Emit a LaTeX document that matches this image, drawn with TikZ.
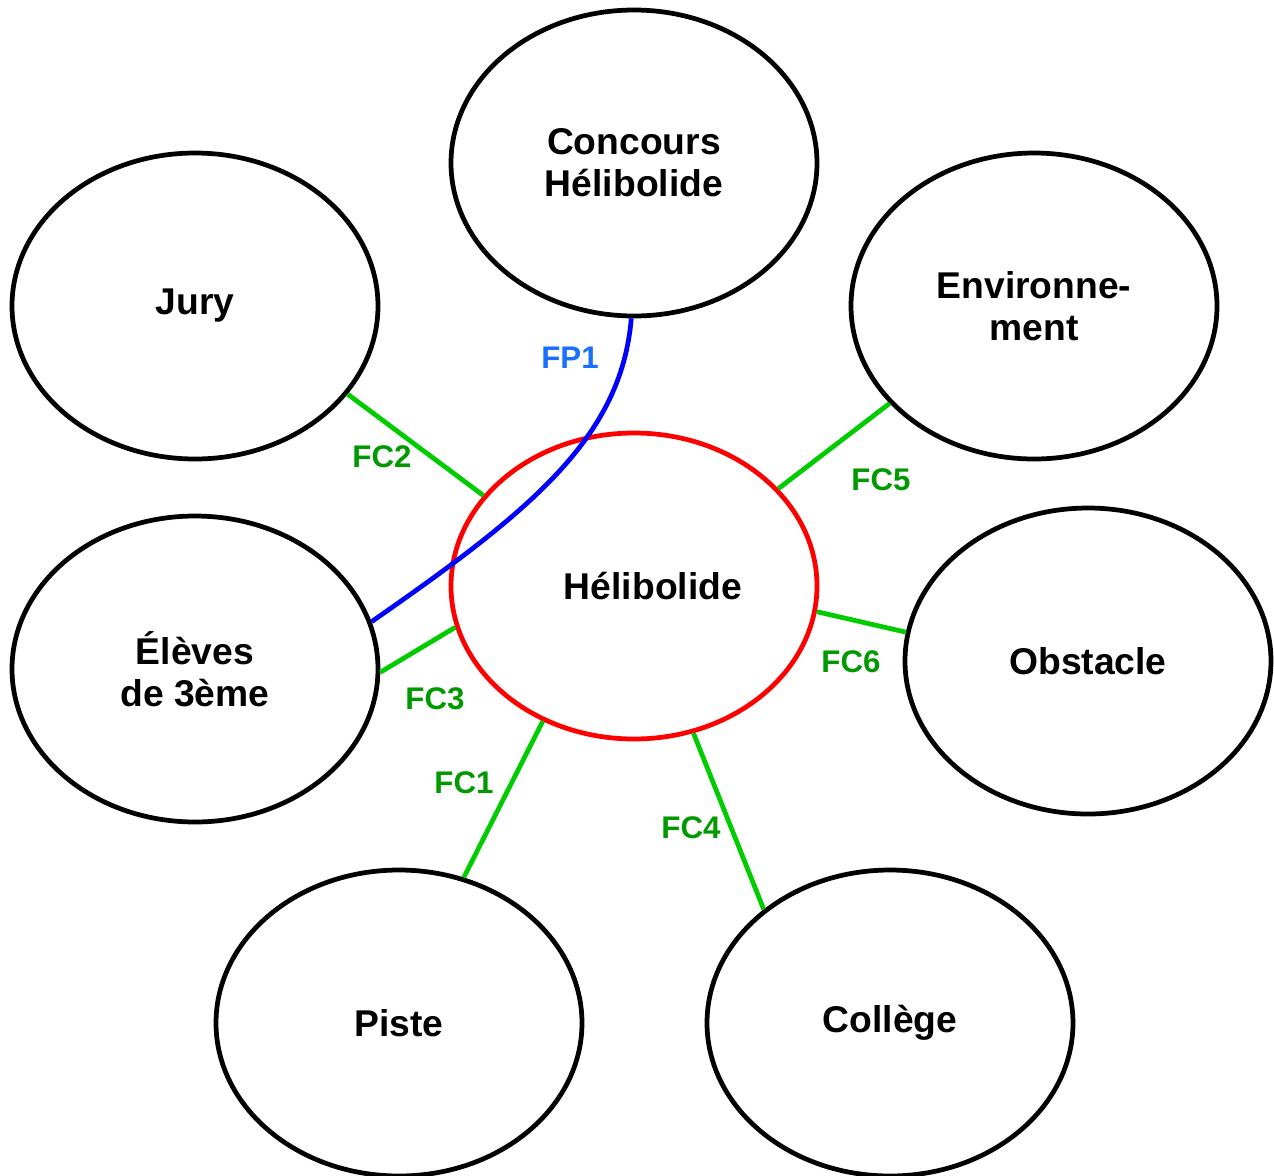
\documentclass[tikz,border=0pt]{standalone}
\usepackage{fontspec}
\setmainfont{Liberation Sans}
\usetikzlibrary{shapes.geometric}

\definecolor{fcline}{HTML}{00CC00}
\definecolor{fctext}{HTML}{009900}
\definecolor{fptext}{HTML}{1A6FFF}

\tikzset{
    bulle/.style={ellipse, draw=black, line width=1.35pt, minimum width=3.66cm, minimum height=3.06cm,
        inner sep=0pt, align=center, font=\fontsize{10.6}{12}\selectfont\bfseries},
    fc/.style={draw=fcline, line width=1.35pt},
    fclabel/.style={text=fctext, font=\fontsize{8.9}{10}\selectfont\bfseries},
}

\begin{document}
\begin{tikzpicture}[x=0.1mm, y=-0.1mm]
\useasboundingbox (0,0) rectangle (1274,1176);

% elements du milieu exterieur
\node[bulle] (concours) at (634,163) {Concours\\Hélibolide};
\node[bulle] (jury) at (195,306) {Jury};
\node[bulle] (envir) at (1034,306) {Environne-\\ment};
\node[bulle] (eleves) at (195,669) {Élèves\\de 3ème};
\node[bulle] (obstacle) at (1088,661) {Obstacle};
\node[bulle] (piste) at (399,1023) {Piste};
\node[bulle] (college) at (890,1023) {Collège};

% le produit
\node[bulle, draw=red] (heli) at (634,586) {\hspace*{0.38cm}Hélibolide};

% fonction principale
\draw[blue, line width=1.35pt] (concours.-91.5) .. controls +(-10,120) and +(158,-110) .. (eleves.15.5);
\node[text=fptext, font=\fontsize{8.9}{10}\selectfont\bfseries] (fp1) at (570,358) {FP1};

% fonctions contraintes
\draw[fc] (jury.-30.4) -- (heli.149.4);
\draw[fc] (envir.214) -- (heli.34);
\draw[fc] (eleves.-1.2) -- (heli.193);
\draw[fc] (heli.-8.6) -- (obstacle.171.7);
\draw[fc] (heli.236.6) -- (piste.66.3);
\draw[fc] (heli.-68) -- (college.138.9);

\node[fclabel] (fc1) at (464,783) {FC1};
\node[fclabel] (fc2) at (382,457) {FC2};
\node[fclabel] (fc3) at (435,699) {FC3};
\node[fclabel] (fc4) at (691,828) {FC4};
\node[fclabel] (fc5) at (881,480) {FC5};
\node[fclabel] (fc6) at (851,662) {FC6};
\end{tikzpicture}
\end{document}
